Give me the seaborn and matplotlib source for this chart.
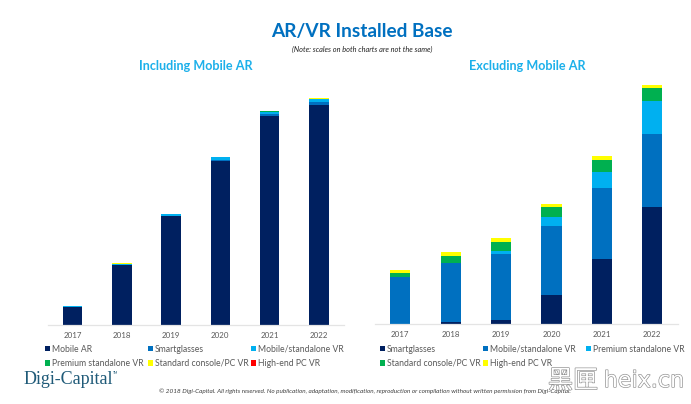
import matplotlib
matplotlib.use("Agg")
import matplotlib.pyplot as plt
import matplotlib.patheffects as pe
from matplotlib.patches import Patch
import seaborn as sns

years = ["2017", "2018", "2019", "2020", "2021", "2022"]

# Left chart (including mobile AR)
l_mobile_ar = [17.2, 59.2, 108.5, 163.8, 208.8, 219.2]
l_smartglasses = [0.1, 0.2, 0.3, 0.9, 1.7, 3.3]
l_mobile_vr = [1.0, 1.6, 1.8, 2.4, 2.3, 3.0]
l_premium = [0.0, 0.0, 0.0, 0.1, 0.3, 0.4]
l_standard = [0.1, 0.1, 0.1, 0.2, 0.3, 0.4]
l_high_end = [0.0, 0.0, 0.0, 0.0, 0.0, 0.1]

# Right chart (excluding mobile AR)
r_smartglasses = [0.3, 1.7, 3.7, 29.3, 64.7, 117.0]
r_mobile_vr = [46.7, 59.3, 65.7, 69.0, 71.0, 72.7]
r_premium = [0.3, 0.3, 3.3, 8.3, 16.0, 33.0]
r_standard = [4.0, 6.7, 9.0, 10.0, 12.0, 12.7]
r_high_end = [2.7, 3.7, 3.7, 3.7, 3.7, 3.7]

NAVY, BLUE, SKY, GREEN, YELLOW, RED = "#002060", "#0070C0", "#00B0F0", "#00B050", "#FFFF00", "#FF0000"

left_series = [("Mobile AR", l_mobile_ar, NAVY), ("Smartglasses", l_smartglasses, BLUE),
               ("Mobile/standalone VR", l_mobile_vr, SKY), ("Premium standalone VR", l_premium, GREEN),
               ("Standard console/PC VR", l_standard, YELLOW), ("High-end PC VR", l_high_end, RED)]
right_series = [("Smartglasses", r_smartglasses, NAVY), ("Mobile/standalone VR", r_mobile_vr, BLUE),
                ("Premium standalone VR", r_premium, SKY), ("Standard console/PC VR", r_standard, GREEN),
                ("High-end PC VR", r_high_end, YELLOW)]

sns.set_theme(style="white")
plt.rcParams["font.family"] = ["Lato", "DejaVu Sans"]
W, H = 691, 404
fig = plt.figure(figsize=(W / 100, H / 100), dpi=100, facecolor="white")


def axes_px(x0, x1, y_top, y_bot):
    return fig.add_axes([x0 / W, 1 - y_bot / H, (x1 - x0) / W, (y_bot - y_top) / H])


def stacked(ax, series, ymax):
    bottom = [0.0] * len(years)
    for name, vals, color in series:
        sns.barplot(x=years, y=vals, bottom=bottom, color=color, width=0.4, ax=ax,
                    saturation=1, linewidth=0, errorbar=None)
        bottom = [b + v for b, v in zip(bottom, vals)]
    ax.set_xlim(-0.5, 5.5)
    ax.set_ylim(0, ymax)
    ax.set_yticks([])
    ax.set_xlabel("")
    ax.set_ylabel("")
    ax.tick_params(axis="x", length=0, labelsize=5.7, labelcolor="#595959", pad=5.2)
    sns.despine(ax=ax, left=True)
    ax.spines["bottom"].set_color("#E4E4E4")
    ax.spines["bottom"].set_linewidth(0.9)
    ax.patch.set_alpha(0)


ax1 = axes_px(48, 343.5, 85, 324.5)
stacked(ax1, left_series, 239.5)
ax2 = axes_px(375, 677.5, 84, 323.8)
stacked(ax2, right_series, 239.8)


def legend(series, col_x, top_y):
    # one single-column legend per column, so each column starts where the reference's does
    for c, x in enumerate(col_x):
        members = series[c::3]
        handles = [Patch(facecolor=col, edgecolor="none", label=n) for n, _, col in members]
        fig.legend(handles=handles, ncols=1, loc="upper left",
                   bbox_to_anchor=(x / W, 1 - top_y / H), frameon=False,
                   fontsize=6.25, labelcolor="#595959", handlelength=0.62, handleheight=0.62,
                   handletextpad=0.2, labelspacing=0.62,
                   borderpad=0, borderaxespad=0)


legend(left_series, [45, 147.5, 250.5], 344.5)
legend(right_series, [380, 483, 585.5], 344.5)


def t(x, y, s, **kw):
    return fig.text(x / W, 1 - y / H, s, ha=kw.pop("ha", "center"), va="center", **kw)


t(362, 32, "AR/VR Installed Base", fontsize=13.7, fontweight="bold", color="#0070C0")
t(362, 49, "(Note: scales on both charts are not the same)", fontsize=5.3, style="italic", color="#222222")
t(196, 66, "Including Mobile AR", fontsize=9.1, fontweight="bold", color="#1CB0EA")
t(527, 66, "Excluding Mobile AR", fontsize=9.1, fontweight="bold", color="#1CB0EA")
t(24, 379, "Digi-Capital", ha="left", fontsize=13, family="Liberation Serif", color="#1F5A78")
t(113, 373, "TM", ha="left", fontsize=2.5, color="#1F5A78")
t(365, 391, "© 2018 Digi-Capital. All rights reserved. No publication, adaptation, modification, reproduction or "
            "compilation without written permission from Digi-Capital.",
  fontsize=4.55, style="italic", color="#404040")
t(573, 381, "黑匣", ha="center", fontsize=18, family=["Noto Sans CJK SC", "DejaVu Sans"], color="white",
  path_effects=[pe.withStroke(linewidth=0.9, foreground="#8A8A8A")])
t(644, 381, "heix.cn", ha="center", fontsize=16, family="DejaVu Sans", color="white",
  path_effects=[pe.withStroke(linewidth=0.9, foreground="#8A8A8A")])

fig.savefig("out.png", dpi=100, facecolor="white")
